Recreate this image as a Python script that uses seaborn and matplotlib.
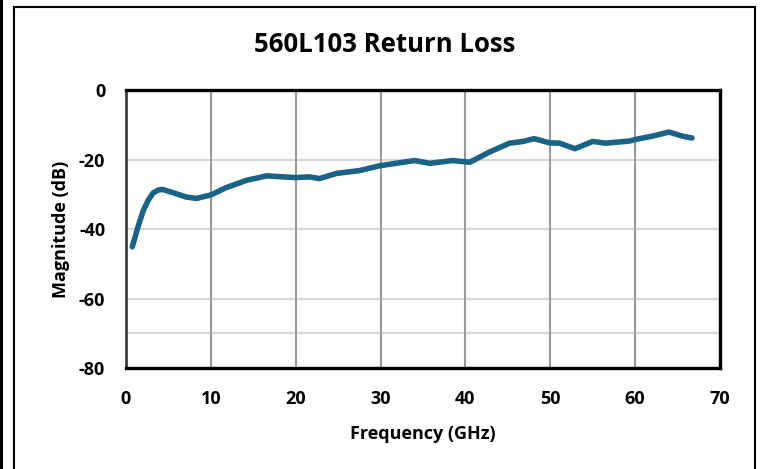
import numpy as np
import pandas as pd
import matplotlib
matplotlib.use('Agg')
import matplotlib.pyplot as plt
from matplotlib.patches import Rectangle
import seaborn as sns

# Данные
freq_ghz = [0.74, 1.4, 2.0, 2.6, 3.2, 3.8, 4.3, 5.6, 7.1, 8.3, 10.0, 11.8,
            14.2, 16.6, 18.5, 20.0, 21.6, 22.8, 24.8, 27.5, 29.9, 31.8, 34.0,
            35.8, 38.5, 40.5, 42.8, 45.2, 46.8, 48.1, 49.9, 51.1, 52.9, 55.0,
            56.5, 59.3, 60.5, 62.0, 64.0, 65.6, 66.7]
magnitude_db = [-45.1, -39.5, -34.9, -31.8, -29.6, -28.8, -28.6, -29.6, -30.8,
                -31.2, -30.2, -28.1, -26.0, -24.7, -25.0, -25.2, -25.0, -25.5,
                -24.0, -23.2, -21.8, -21.1, -20.3, -21.1, -20.3, -20.8, -17.9,
                -15.3, -14.8, -14.0, -15.2, -15.3, -16.9, -14.8, -15.3, -14.7,
                -14.0, -13.3, -12.1, -13.3, -13.8]
x_ticks = [0, 10, 20, 30, 40, 50, 60, 70]
y_ticks = [-80, -60, -40, -20, 0]
h_grid = [-20, -40, -60, -70]
v_grid = [10, 20, 30, 40, 50, 60]

df = pd.DataFrame({'freq': freq_ghz, 'mag': magnitude_db})

sns.set_theme(style='white')
plt.rcParams['font.family'] = ['Open Sans', 'DejaVu Sans']
plt.rcParams['text.color'] = 'black'
plt.rcParams['axes.labelcolor'] = 'black'
plt.rcParams['axes.unicode_minus'] = False

fig = plt.figure(figsize=(7.6, 4.69), dpi=100)
ax = fig.add_axes([126 / 760, 1 - 368 / 469, (720 - 126) / 760, (368 - 90) / 469])

for y in h_grid:
    ax.axhline(y, color='#d9d9d9', lw=1.5, zorder=0)
for x in v_grid:
    ax.axvline(x, color='#999999', lw=1.5, zorder=0)

sns.lineplot(data=df, x='freq', y='mag', ax=ax, color='#1b6386', lw=4,
             solid_capstyle='round', solid_joinstyle='round', sort=False)

ax.set_xlim(0, 70)
ax.set_ylim(-80, 0)
ax.set_xticks(x_ticks)
ax.set_yticks(y_ticks)
ax.tick_params(length=0, labelsize=13, colors='black')
ax.tick_params(axis='x', pad=16)
ax.tick_params(axis='y', pad=15)
for lbl in ax.get_xticklabels() + ax.get_yticklabels():
    lbl.set_fontweight('bold')

ax.set_xlabel('Frequency (GHz)', fontsize=13, fontweight='bold', labelpad=12)
ax.set_ylabel('Magnitude (dB)', fontsize=13, fontweight='bold', labelpad=6)

for side in ['top', 'right', 'bottom']:
    ax.spines[side].set_color('black')
    ax.spines[side].set_linewidth(2.4)
ax.spines['left'].set_color('#404040')
ax.spines['left'].set_linewidth(2.0)

fig.text(385 / 760, 1 - 45 / 469, '560L103 Return Loss', ha='center', va='center',
         fontsize=18.5, fontweight='bold')

# рамка вокруг диаграммы
fig.patches.append(Rectangle((14 / 760, -0.02), (755 - 14) / 760, 1.02 - 7 / 469,
                             transform=fig.transFigure, fill=False,
                             edgecolor='black', lw=1.5))
fig.patches.append(Rectangle((0, 0), 3 / 760, 1, transform=fig.transFigure,
                             facecolor='black', edgecolor='none'))

fig.savefig('out.png', dpi=100)
